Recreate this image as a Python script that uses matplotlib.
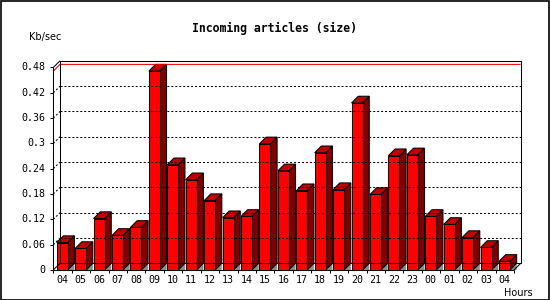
import matplotlib
matplotlib.use("Agg")
import matplotlib.pyplot as plt
from matplotlib.patches import Polygon, Rectangle
import numpy as np

# ---- data ----
hours = ["04", "05", "06", "07", "08", "09", "10", "11", "12", "13", "14", "15",
         "16", "17", "18", "19", "20", "21", "22", "23", "00", "01", "02", "03", "04"]
kb_sec = [0.065, 0.051, 0.122, 0.082, 0.101, 0.4715, 0.2495, 0.214, 0.1645, 0.124,
          0.127, 0.299, 0.235, 0.188, 0.278, 0.1905, 0.396, 0.179, 0.271, 0.273,
          0.127, 0.108, 0.077, 0.0535, 0.0205]
y_ticks = [0, 0.06, 0.12, 0.18, 0.24, 0.30, 0.36, 0.42, 0.48]
y_tick_labels = ["0", "0.06", "0.12", "0.18", "0.24", "0.3", "0.36", "0.42", "0.48"]
title = "Incoming articles (size)"
y_title = "Kb/sec"
x_title = "Hours"

# ---- style ----
W, H = 550, 300
FRONT = "#ff0000"
TOP = "#c00000"
SIDE = "#800000"
SHADOW = "#8c8c8c"
DEPTH_PX = 6.7
LW = 0.75

fig = plt.figure(figsize=(W / 100, H / 100), dpi=100)
fig.patch.set_facecolor("white")
left_px, right_px, bottom_px, top_px = 53.3, 514.0, 270.0, 67.5
ax = fig.add_axes([left_px / W, 1 - bottom_px / H,
                   (right_px - left_px) / W, (bottom_px - top_px) / H])
n = len(hours)
ax.set_xlim(0, n)
ax.set_ylim(0, y_ticks[-1])
ax.axis("off")

# depth offset expressed in data units through the axes transform
inv = ax.transData.inverted()
p0 = ax.transData.transform((0, 0))
dx, dy = inv.transform(p0 + np.array([DEPTH_PX, DEPTH_PX]))
tick_dx = inv.transform(p0 + np.array([3.0, 0]))[0]
tick_dy = ax.transData.inverted().transform(p0 + np.array([0, 3.0]))[1]
ymax = y_ticks[-1]

def line(xs, ys, **kw):
    kw.setdefault("color", "black")
    kw.setdefault("lw", LW)
    ax.plot(xs, ys, clip_on=False, solid_capstyle="butt", **kw)

# back wall gridlines (dotted) and diagonals
for v in y_ticks[1:-1]:
    line([dx, n + dx], [v + dy, v + dy], linestyle=(0, (1.9, 1.9)))
    line([0, dx], [v, v + dy], linestyle=(0, (1.9, 1.9)))

# max value line (red)
vmax = max(kb_sec)
line([0, dx, n + dx], [vmax, vmax + dy, vmax + dy], color="#e00000")

# back wall frame
line([dx, dx, n + dx, n + dx, dx], [dy, ymax + dy, ymax + dy, dy, dy])
# top/bottom diagonals
line([0, dx], [ymax, ymax + dy])
line([0, dx], [0, dy])
line([n, n + dx], [0, dy])

# bars
bw = 0.597
boff = 0.184
for i, v in enumerate(kb_sec):
    xl = i + boff
    xr = xl + bw
    # floor shadow
    ax.add_patch(Polygon([(xr, 0), (xr + dx, dy), (xr + dx, 0)], closed=True,
                         facecolor=SHADOW, edgecolor="none", clip_on=False))
    # side face
    ax.add_patch(Polygon([(xr, 0), (xr + dx, dy), (xr + dx, v + dy), (xr, v)], closed=True,
                         facecolor=SIDE, edgecolor="black", lw=LW, clip_on=False))
    # top face
    ax.add_patch(Polygon([(xl, v), (xl + dx, v + dy), (xr + dx, v + dy), (xr, v)], closed=True,
                         facecolor=TOP, edgecolor="black", lw=LW, clip_on=False))
    # front face
    ax.add_patch(Rectangle((xl, 0), bw, v, facecolor=FRONT, edgecolor="black",
                           lw=LW, clip_on=False))
    ax.annotate(hours[i], (xl + bw / 2, 0), xytext=(0, -10), textcoords="offset pixels",
                ha="center", va="center", fontsize=7.2, family="DejaVu Sans Mono")

# front axes
line([0, 0], [0, ymax])
line([0, n], [0, 0])
for v, lab in zip(y_ticks, y_tick_labels):
    line([-tick_dx, 0], [v, v])
    ax.annotate(lab, (0, v), xytext=(-7.6, 0), textcoords="offset pixels",
                ha="right", va="center", fontsize=7.2, family="DejaVu Sans Mono")
for i in range(n + 1):
    line([i, i], [0, -tick_dy])

# texts
fig.text(274.6 / W, 1 - 28 / H, title, ha="center", va="center", fontsize=8.3,
         family="DejaVu Sans Mono", fontweight="bold")
fig.text(29 / W, 1 - 37 / H, y_title, ha="left", va="center", fontsize=7,
         family="DejaVu Sans")
fig.text(533 / W, 1 - 292.5 / H, x_title, ha="right", va="center", fontsize=7,
         family="DejaVu Sans")

# image border
fig.add_artist(Rectangle((0.5 / W, 0.5 / H), 548 / W, 298.5 / H, transform=fig.transFigure,
                         facecolor="none", edgecolor="black", lw=1.2))

fig.savefig("out.png", dpi=100)
